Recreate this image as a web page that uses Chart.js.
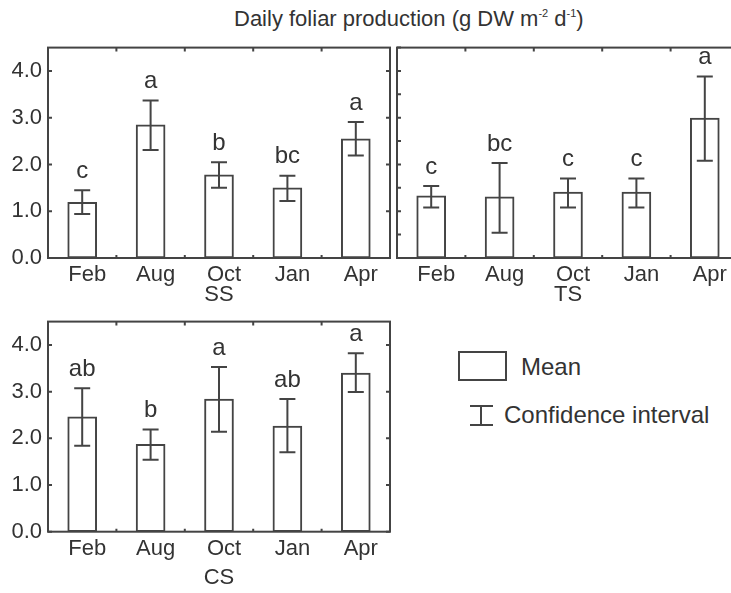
<!DOCTYPE html>
<html lang="en">
<head>
<meta charset="UTF-8">
<title>Daily foliar production</title>
<script src="https://cdn.jsdelivr.net/npm/chart.js"></script>
<style>
  body { margin: 0; background: #fff; overflow: hidden; width: 731px; height: 593px; position: relative;
         font-family: "Liberation Sans", Arial, sans-serif; color: #333; }
  canvas { position: absolute; }
  #ss { left: 0; top: 0; }
  #ts { left: 392px; top: 0; }
  #cs { left: 0; top: 300px; }
  .title { position: absolute; left: 234px; top: 6px; font-size: 22px; white-space: nowrap; }
  .title sup { font-size: 11px; line-height: 0; vertical-align: 9px; }
  .lbox { position: absolute; left: 458px; top: 351px; width: 45px; height: 26px; border: 2px solid #444; }
  .ibeam { position: absolute; left: 470px; top: 405px; width: 23px; height: 17px; border-top: 2px solid #444; border-bottom: 2px solid #444; }
  .ibeam::before { content: ""; position: absolute; left: 10px; top: 0; width: 2px; height: 17px; background: #444; }
  .ltext { position: absolute; font-size: 24px; white-space: nowrap; line-height: 28px; }
</style>
</head>
<body>
  <div class="title">Daily foliar production (g DW m<sup>-2</sup> d<sup>-1</sup>)</div>
  <canvas id="ss" width="395" height="320"></canvas>
  <canvas id="ts" width="352" height="320"></canvas>
  <canvas id="cs" width="395" height="300"></canvas>
  <div class="lbox"></div><div class="ltext" style="left:521px; top:353px;">Mean</div>
  <div class="ibeam"></div><div class="ltext" style="left:504px; top:401px;">Confidence interval</div>
<script>
    const months = ['Feb', 'Aug', 'Oct', 'Jan', 'Apr']

    const ssMean = [1.19, 2.85, 1.78, 1.50, 2.55]
    const ssLow = [0.94, 2.31, 1.50, 1.22, 2.19]
    const ssHigh = [1.45, 3.37, 2.05, 1.76, 2.91]
    const ssLetters = ['c', 'a', 'b', 'bc', 'a']

    const tsMean = [1.33, 1.31, 1.41, 1.41, 2.99]
    const tsLow = [1.08, 0.54, 1.08, 1.08, 2.08]
    const tsHigh = [1.54, 2.03, 1.70, 1.70, 3.88]
    const tsLetters = ['c', 'bc', 'c', 'c', 'a']

    const csMean = [2.46, 1.87, 2.84, 2.26, 3.40]
    const csLow = [1.84, 1.54, 2.14, 1.70, 2.99]
    const csHigh = [3.07, 2.19, 3.53, 2.84, 3.82]
    const csLetters = ['ab', 'b', 'a', 'ab', 'a']

    const lineColor = '#444'
    const textColor = '#333'
    Chart.defaults.font.family = '"Liberation Sans", Arial, sans-serif'

    // box, inner ticks, error bars and letters
    const panelPlugin = {
      id: 'panel',
      afterDatasetsDraw(chart, args, opts) {
        const ctx = chart.ctx
        const a = chart.chartArea
        const x = chart.scales.x
        const y = chart.scales.y
        ctx.save()
        ctx.strokeStyle = lineColor
        ctx.lineWidth = 2
        ctx.fillStyle = textColor
        ctx.font = '24px "Liberation Sans", Arial, sans-serif'
        ctx.textAlign = 'center'
        ctx.textBaseline = 'middle'

        chart.getDatasetMeta(0).data.forEach((bar, i) => {
          const yl = y.getPixelForValue(opts.low[i])
          const yh = y.getPixelForValue(opts.high[i])
          ctx.beginPath()
          ctx.moveTo(bar.x, yl); ctx.lineTo(bar.x, yh)
          ctx.moveTo(bar.x - 8, yl); ctx.lineTo(bar.x + 8, yl)
          ctx.moveTo(bar.x - 8, yh); ctx.lineTo(bar.x + 8, yh)
          ctx.stroke()
          ctx.fillText(opts.letters[i], bar.x, yh - 19)
        })

        ctx.strokeRect(a.left, a.top, a.right - a.left, a.bottom - a.top)

        ctx.beginPath()
        y.ticks.forEach(t => {
          const py = y.getPixelForValue(t.value)
          ctx.moveTo(a.left, py); ctx.lineTo(a.left + 4, py)
          ctx.moveTo(a.right, py); ctx.lineTo(a.right - 4, py)
        })
        for (let i = 0; i < months.length - 1; i++) {
          const px = (x.getPixelForValue(i) + x.getPixelForValue(i + 1)) / 2
          ctx.moveTo(px, a.top); ctx.lineTo(px, a.top + 4)
          ctx.moveTo(px, a.bottom); ctx.lineTo(px, a.bottom - 3)
        }
        ctx.stroke()
        ctx.restore()
      }
    }

    function createPanel(id, mean, low, high, letters, name, p) {
      const ctx = document.getElementById(id).getContext('2d')
      return new Chart(ctx, {
        type: 'bar',
        data: {
          labels: months,
          datasets: [{
            data: mean,
            backgroundColor: '#fff',
            borderColor: lineColor,
            borderWidth: 2,
            borderSkipped: false,
            barThickness: 29
          }]
        },
        options: {
          responsive: false,
          animation: false,
          layout: { padding: p.padding },
          plugins: {
            legend: { display: false },
            tooltip: { enabled: false },
            panel: { low, high, letters }
          },
          scales: {
            x: {
              grid: { display: false, drawTicks: false },
              border: { display: false },
              ticks: { font: { size: 22 }, color: textColor, padding: p.xPad, labelOffset: 5 },
              title: { display: true, text: name, font: { size: 22 }, color: textColor, padding: { top: 0, bottom: p.titleBottom } },
              afterFit: s => { s.height = p.xHeight }
            },
            y: {
              min: 0,
              max: 4.5,
              grid: { display: false, drawTicks: false },
              border: { display: false },
              ticks: {
                display: p.yLabels,
                stepSize: 0.5,
                padding: 6,
                font: { size: 22 },
                color: textColor,
                callback: v => Number.isInteger(v) ? v.toFixed(1) : ''
              },
              afterFit: s => { s.width = p.yWidth }
            }
          }
        },
        plugins: [panelPlugin]
      })
    }

    createPanel('ss', ssMean, ssLow, ssHigh, ssLetters, 'SS',
      { padding: { left: 0, top: 47.6, right: 5, bottom: 0 }, yWidth: 48, xHeight: 62, xPad: 4, titleBottom: 11.8, yLabels: true })
    createPanel('ts', tsMean, tsLow, tsHigh, tsLetters, 'TS',
      { padding: { left: 0, top: 47.6, right: 5, bottom: 0 }, yWidth: 5, xHeight: 62, xPad: 4, titleBottom: 11.8, yLabels: false })
    createPanel('cs', csMean, csLow, csHigh, csLetters, 'CS',
      { padding: { left: 0, top: 21.6, right: 5, bottom: 0 }, yWidth: 48, xHeight: 68.3, xPad: 4, titleBottom: 8.8, yLabels: true })
</script>
</body>
</html>
